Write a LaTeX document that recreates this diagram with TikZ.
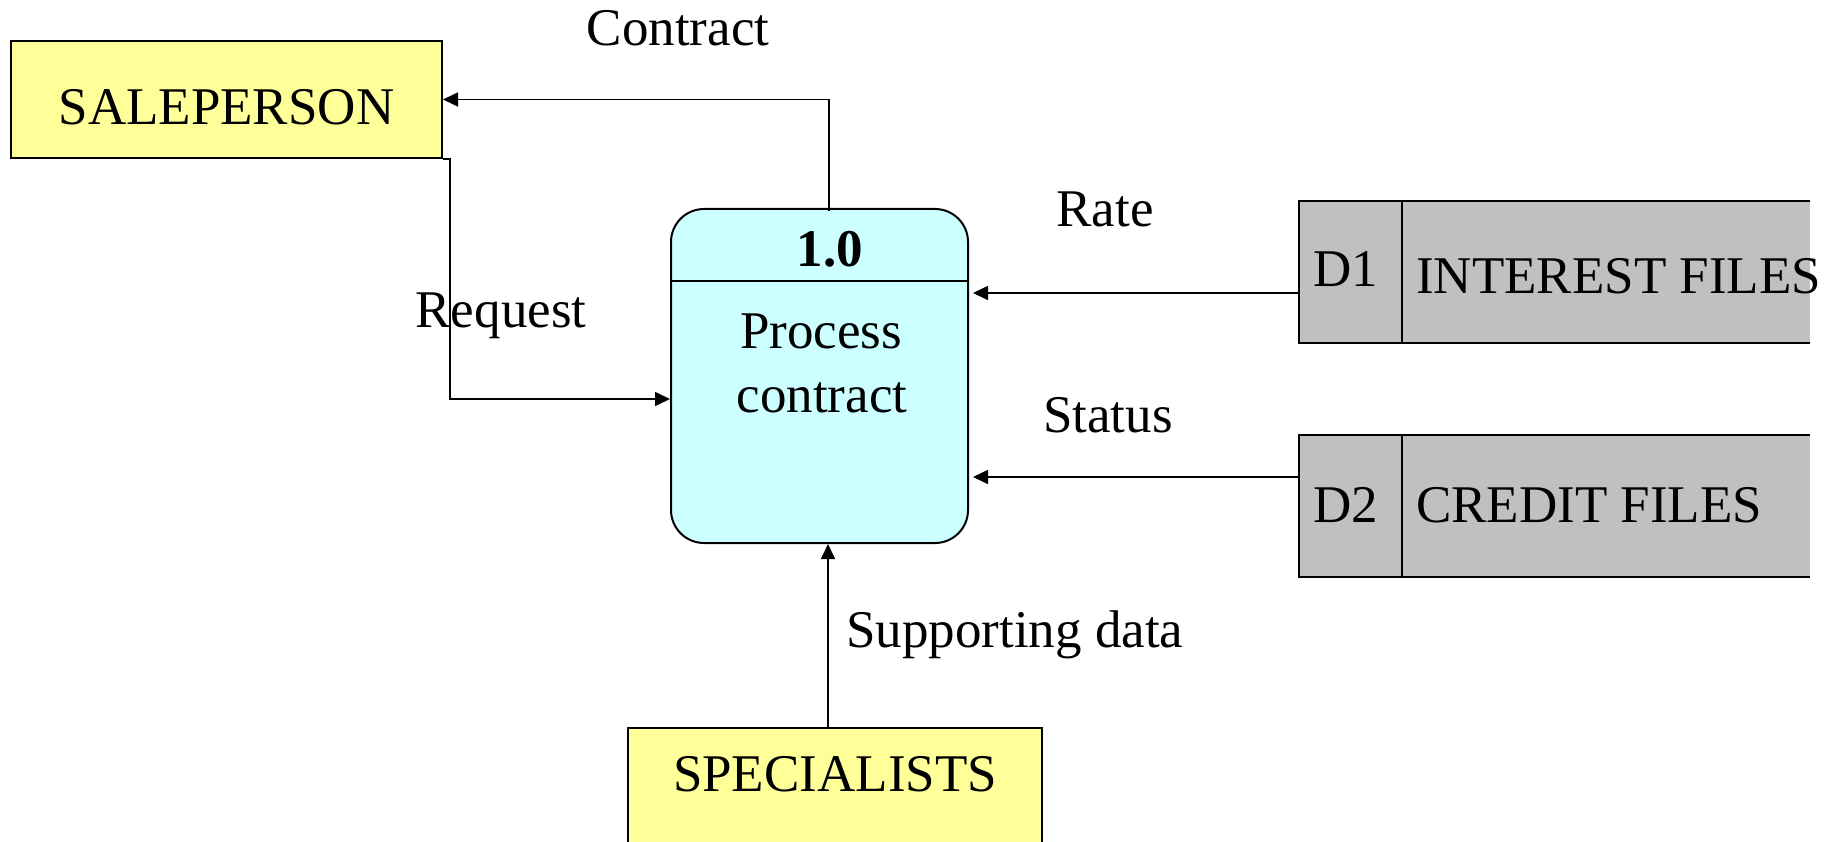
\documentclass[tikz,border=0pt]{standalone}
\usepackage{fontspec}
\setmainfont{Liberation Serif}
\usetikzlibrary{arrows.meta}
\definecolor{entyellow}{HTML}{FFFF99}
\definecolor{proccyan}{HTML}{CCFFFF}
\definecolor{storegray}{HTML}{C0C0C0}
\tikzset{
  entity/.style={draw=black, line width=2pt, fill=entyellow, inner sep=0pt},
  procbox/.style={draw=black, line width=2pt, fill=proccyan, rounded corners=33pt, inner sep=0pt, minimum width=297pt, minimum height=334pt},
  storefill/.style={fill=storegray, draw=none, inner sep=0pt, minimum width=511pt, minimum height=142pt},
  storeline/.style={draw=black, line width=2pt},
  flow/.style={draw=black, line width=1.6pt, -{Triangle[length=15pt,width=14pt]}},
  txt/.style={font=\fontsize{53}{59}\selectfont, inner sep=0pt, anchor=base},
  txtl/.style={font=\fontsize{53}{59}\selectfont, inner sep=0pt, anchor=base west}
}
\begin{document}
\begin{tikzpicture}[x=1pt,y=-1pt]
\clip (0,0) rectangle (1835,842);
\fill[white] (0,0) rectangle (1835,842);

% entities
\node[entity, minimum width=431pt, minimum height=117pt] (sales) at (226.5,99.5) {};
\node[txt] (salestxt) at (226.5,125) {SALEPERSON};
\node[entity, minimum width=414pt, minimum height=160pt] (spec) at (835,808) {};
\node[txt] (spectxt) at (835,791) {SPECIALISTS};

% process
\node[procbox] (proc) at (819.5,376) {};
\draw[line width=2pt] (proc.west |- 0,281) coordinate (divl) -- (proc.east |- 0,281) coordinate (divr);
\node[txt, font=\fontsize{53}{59}\selectfont\bfseries] (pid) at (830,266) {1.0};
\node[txt] (pname1) at (821,348) {Process};
\node[txt] (pname2) at (822,412) {contract};

% data stores
\node[storefill] (d1) at (1554.5,272) {};
\draw[storeline] (d1.north east) -- (d1.north west) -- (d1.south west) -- (d1.south east);
\draw[storeline] ([xshift=103pt]d1.north west) -- ([xshift=103pt]d1.south west);
\node[txt] (d1id) at (1346,287) {D1};
\node[txtl] (d1name) at (1416,293) {INTEREST FILES};

\node[storefill] (d2) at (1554.5,506) {};
\draw[storeline] (d2.north east) -- (d2.north west) -- (d2.south west) -- (d2.south east);
\draw[storeline] ([xshift=103pt]d2.north west) -- ([xshift=103pt]d2.south west);
\node[txt] (d2id) at (1346,522) {D2};
\node[txtl] (d2name) at (1416,522) {CREDIT FILES};

% flows
\draw[flow] ([xshift=9.5pt,yshift=-3pt]proc.north) |- (sales.east);
\draw[flow] (sales.south east) -- ++(7,0) |- ([yshift=-23pt]proc.west);
\draw[flow, shorten >=4pt] ([yshift=-21pt]d1.west) -- ([yshift=-21pt]d1.west -| proc.east);
\draw[flow, shorten >=4pt] ([yshift=29pt]d2.west) -- ([yshift=29pt]d2.west -| proc.east);
\draw[flow] ([xshift=-7pt]spec.north) -- ([xshift=-7pt]spec.north |- proc.south);

% flow labels
\node[txt] (lcontract) at (678,46) {Contract};
\node[txt] (lrequest) at (501,327) {Request};
\node[txt] (lrate) at (1105,227) {Rate};
\node[txt] (lstatus) at (1108,432) {Status};
\node[txtl] (lsupport) at (846,647) {Supporting data};
\end{tikzpicture}
\end{document}
